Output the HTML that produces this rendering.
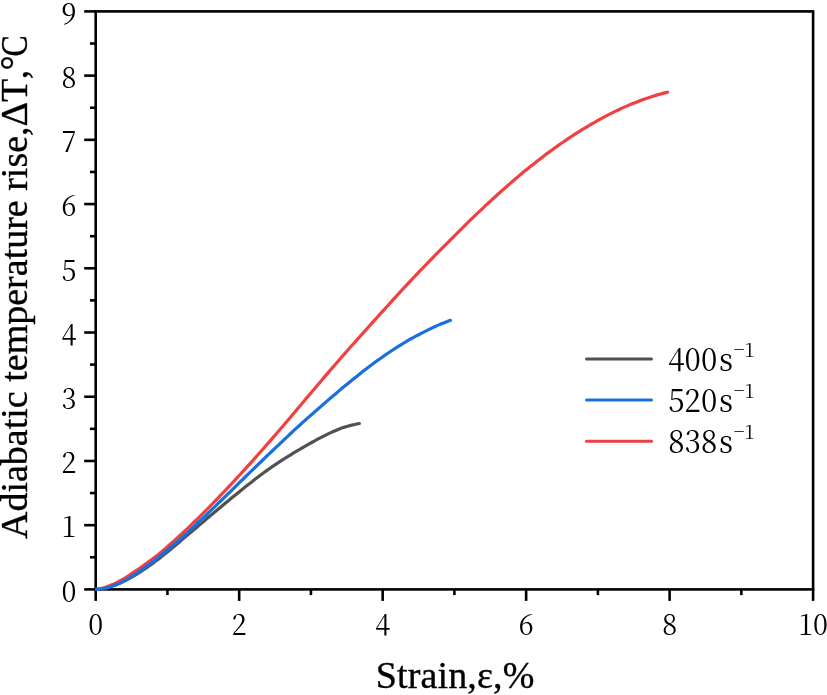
<!DOCTYPE html>
<html lang="en"><head><meta charset="utf-8"><title>Adiabatic temperature rise vs strain</title>
<style>
html,body{margin:0;padding:0;background:#fff;}
svg{display:block;will-change:transform;}
.tick{font-family:"Noto Serif CJK SC", "Liberation Serif", serif;font-size:29.3px;fill:#000;}
.lab{font-family:"Liberation Serif", serif;font-size:38px;fill:#000;stroke:#000;stroke-width:0.35px;}
.xlab{letter-spacing:0.15px;}
.leg{font-family:"Noto Serif CJK SC", "Liberation Serif", serif;font-size:32px;fill:#000;}
.sup{font-size:20px;}
</style></head><body>
<svg width="827" height="695" viewBox="0 0 827 695">
<rect x="0" y="0" width="827" height="695" fill="#ffffff"/>
<g stroke="#000" stroke-width="2.6" fill="none" stroke-linecap="butt">
<line x1="84.20" y1="589.40" x2="95.70" y2="589.40"/>
<line x1="90.00" y1="557.29" x2="95.70" y2="557.29"/>
<line x1="84.20" y1="525.18" x2="95.70" y2="525.18"/>
<line x1="90.00" y1="493.07" x2="95.70" y2="493.07"/>
<line x1="84.20" y1="460.96" x2="95.70" y2="460.96"/>
<line x1="90.00" y1="428.84" x2="95.70" y2="428.84"/>
<line x1="84.20" y1="396.73" x2="95.70" y2="396.73"/>
<line x1="90.00" y1="364.62" x2="95.70" y2="364.62"/>
<line x1="84.20" y1="332.51" x2="95.70" y2="332.51"/>
<line x1="90.00" y1="300.40" x2="95.70" y2="300.40"/>
<line x1="84.20" y1="268.29" x2="95.70" y2="268.29"/>
<line x1="90.00" y1="236.18" x2="95.70" y2="236.18"/>
<line x1="84.20" y1="204.07" x2="95.70" y2="204.07"/>
<line x1="90.00" y1="171.96" x2="95.70" y2="171.96"/>
<line x1="84.20" y1="139.84" x2="95.70" y2="139.84"/>
<line x1="90.00" y1="107.73" x2="95.70" y2="107.73"/>
<line x1="84.20" y1="75.62" x2="95.70" y2="75.62"/>
<line x1="90.00" y1="43.51" x2="95.70" y2="43.51"/>
<line x1="84.20" y1="11.40" x2="95.70" y2="11.40"/>
<line x1="95.70" y1="589.40" x2="95.70" y2="600.90"/>
<line x1="167.44" y1="589.40" x2="167.44" y2="595.10"/>
<line x1="239.18" y1="589.40" x2="239.18" y2="600.90"/>
<line x1="310.92" y1="589.40" x2="310.92" y2="595.10"/>
<line x1="382.66" y1="589.40" x2="382.66" y2="600.90"/>
<line x1="454.40" y1="589.40" x2="454.40" y2="595.10"/>
<line x1="526.14" y1="589.40" x2="526.14" y2="600.90"/>
<line x1="597.88" y1="589.40" x2="597.88" y2="595.10"/>
<line x1="669.62" y1="589.40" x2="669.62" y2="600.90"/>
<line x1="741.36" y1="589.40" x2="741.36" y2="595.10"/>
<line x1="813.10" y1="589.40" x2="813.10" y2="600.90"/>
</g>
<rect x="95.70" y="11.40" width="717.40" height="578.00" fill="none" stroke="#000" stroke-width="2.6"/>
<defs><clipPath id="plotclip"><rect x="95.1" y="0" width="732" height="600"/></clipPath></defs>
<g fill="none" stroke-width="3.2" stroke-linecap="round" stroke-linejoin="round" clip-path="url(#plotclip)">
<path stroke="#515151" d="M95.7,589.4 L98.7,589.2 L101.7,588.8 L104.7,588.2 L107.7,587.5 L110.7,586.6 L113.7,585.6 L116.7,584.4 L119.7,583.2 L122.7,581.8 L125.7,580.3 L128.7,578.8 L131.7,577.1 L134.7,575.4 L137.7,573.6 L140.7,571.7 L143.7,569.7 L146.7,567.7 L149.7,565.5 L152.7,563.4 L155.7,561.1 L158.7,558.9 L161.7,556.5 L164.7,554.1 L167.7,551.7 L170.7,549.2 L173.7,546.7 L176.7,544.2 L179.7,541.7 L182.7,539.1 L185.7,536.6 L188.7,534.1 L191.7,531.5 L194.7,529.0 L197.7,526.5 L200.7,523.9 L203.7,521.4 L206.7,518.8 L209.7,516.3 L212.7,513.8 L215.7,511.2 L218.7,508.7 L221.7,506.2 L224.7,503.7 L227.7,501.3 L230.7,498.8 L233.7,496.3 L236.7,493.9 L239.7,491.4 L242.7,489.0 L245.7,486.6 L248.7,484.2 L251.7,481.9 L254.7,479.5 L257.7,477.3 L260.7,475.0 L263.7,472.8 L266.7,470.6 L269.7,468.5 L272.7,466.4 L275.7,464.4 L278.7,462.4 L281.7,460.4 L284.7,458.5 L287.7,456.6 L290.7,454.8 L293.7,452.9 L296.7,451.1 L299.7,449.4 L302.7,447.6 L305.7,445.9 L308.7,444.2 L311.7,442.5 L314.7,440.9 L317.7,439.2 L320.7,437.6 L323.7,436.1 L326.7,434.6 L329.7,433.1 L332.7,431.8 L335.7,430.5 L338.7,429.2 L341.7,428.1 L344.7,427.1 L347.7,426.2 L350.7,425.4 L353.7,424.7 L356.7,424.0 L359.3,423.5"/>
<path stroke="#f14040" d="M95.7,589.4 L98.7,589.0 L101.7,588.4 L104.7,587.6 L107.7,586.5 L110.7,585.3 L113.7,584.0 L116.7,582.6 L119.7,581.0 L122.7,579.3 L125.7,577.5 L128.7,575.7 L131.7,573.7 L134.7,571.7 L137.7,569.7 L140.7,567.6 L143.7,565.4 L146.7,563.2 L149.7,560.9 L152.7,558.7 L155.7,556.5 L158.7,554.2 L161.7,551.7 L164.7,549.1 L167.7,546.5 L170.7,543.8 L173.7,541.2 L176.7,538.4 L179.7,535.7 L182.7,532.9 L185.7,530.1 L188.7,527.3 L191.7,524.4 L194.7,521.5 L197.7,518.6 L200.7,515.6 L203.7,512.6 L206.7,509.6 L209.7,506.6 L212.7,503.5 L215.7,500.5 L218.7,497.4 L221.7,494.2 L224.7,491.1 L227.7,487.9 L230.7,484.7 L233.7,481.5 L236.7,478.2 L239.7,475.0 L242.7,471.7 L245.7,468.4 L248.7,465.1 L251.7,461.8 L254.7,458.4 L257.7,455.0 L260.7,451.7 L263.7,448.2 L266.7,444.8 L269.7,441.4 L272.7,437.9 L275.7,434.5 L278.7,431.0 L281.7,427.5 L284.7,424.0 L287.7,420.5 L290.7,417.0 L293.7,413.4 L296.7,409.8 L299.7,406.2 L302.7,402.7 L305.7,399.1 L308.7,395.6 L311.7,392.0 L314.7,388.5 L317.7,385.0 L320.7,381.4 L323.7,377.9 L326.7,374.4 L329.7,370.9 L332.7,367.4 L335.7,364.0 L338.7,360.5 L341.7,357.0 L344.7,353.6 L347.7,350.2 L350.7,346.8 L353.7,343.5 L356.7,340.1 L359.7,336.7 L362.7,333.4 L365.7,330.1 L368.7,326.7 L371.7,323.4 L374.7,320.1 L377.7,316.7 L380.7,313.4 L383.7,310.1 L386.7,306.8 L389.7,303.5 L392.7,300.2 L395.7,296.9 L398.7,293.6 L401.7,290.4 L404.7,287.1 L407.7,283.9 L410.7,280.7 L413.7,277.5 L416.7,274.3 L419.7,271.2 L422.7,268.1 L425.7,265.0 L428.7,261.9 L431.7,258.8 L434.7,255.7 L437.7,252.7 L440.7,249.6 L443.7,246.6 L446.7,243.6 L449.7,240.6 L452.7,237.6 L455.7,234.6 L458.7,231.6 L461.7,228.6 L464.7,225.6 L467.7,222.7 L470.7,219.7 L473.7,216.8 L476.7,213.9 L479.7,211.1 L482.7,208.3 L485.7,205.4 L488.7,202.7 L491.7,199.9 L494.7,197.2 L497.7,194.5 L500.7,191.8 L503.7,189.1 L506.7,186.5 L509.7,183.9 L512.7,181.3 L515.7,178.7 L518.7,176.1 L521.7,173.6 L524.7,171.1 L527.7,168.7 L530.7,166.3 L533.7,163.9 L536.7,161.5 L539.7,159.2 L542.7,156.9 L545.7,154.6 L548.7,152.4 L551.7,150.2 L554.7,148.0 L557.7,145.9 L560.7,143.8 L563.7,141.7 L566.7,139.6 L569.7,137.6 L572.7,135.7 L575.7,133.7 L578.7,131.8 L581.7,129.9 L584.7,128.1 L587.7,126.3 L590.7,124.5 L593.7,122.8 L596.7,121.1 L599.7,119.4 L602.7,117.8 L605.7,116.2 L608.7,114.6 L611.7,113.1 L614.7,111.6 L617.7,110.2 L620.7,108.8 L623.7,107.4 L626.7,106.1 L629.7,104.8 L632.7,103.6 L635.7,102.4 L638.7,101.2 L641.7,100.1 L644.7,99.0 L647.7,98.0 L650.7,97.0 L653.7,96.0 L656.7,95.1 L659.7,94.2 L662.7,93.4 L665.7,92.6 L667.5,92.2"/>
<path stroke="#1a6fdf" d="M95.7,589.4 L98.7,589.2 L101.7,588.8 L104.7,588.3 L107.7,587.6 L110.7,586.7 L113.7,585.6 L116.7,584.4 L119.7,583.1 L122.7,581.6 L125.7,580.0 L128.7,578.3 L131.7,576.5 L134.7,574.6 L137.7,572.7 L140.7,570.6 L143.7,568.5 L146.7,566.3 L149.7,564.1 L152.7,561.9 L155.7,559.5 L158.7,557.2 L161.7,554.8 L164.7,552.3 L167.7,549.8 L170.7,547.3 L173.7,544.8 L176.7,542.2 L179.7,539.5 L182.7,536.9 L185.7,534.1 L188.7,531.4 L191.7,528.6 L194.7,525.9 L197.7,523.0 L200.7,520.2 L203.7,517.3 L206.7,514.5 L209.7,511.6 L212.7,508.7 L215.7,505.8 L218.7,502.9 L221.7,500.0 L224.7,497.1 L227.7,494.2 L230.7,491.3 L233.7,488.3 L236.7,485.4 L239.7,482.4 L242.7,479.5 L245.7,476.5 L248.7,473.6 L251.7,470.7 L254.7,467.8 L257.7,464.9 L260.7,462.0 L263.7,459.1 L266.7,456.2 L269.7,453.4 L272.7,450.5 L275.7,447.7 L278.7,444.8 L281.7,442.0 L284.7,439.1 L287.7,436.3 L290.7,433.5 L293.7,430.7 L296.7,427.9 L299.7,425.2 L302.7,422.4 L305.7,419.8 L308.7,417.1 L311.7,414.5 L314.7,411.9 L317.7,409.2 L320.7,406.6 L323.7,404.0 L326.7,401.4 L329.7,398.8 L332.7,396.2 L335.7,393.7 L338.7,391.1 L341.7,388.6 L344.7,386.1 L347.7,383.7 L350.7,381.2 L353.7,378.8 L356.7,376.4 L359.7,374.0 L362.7,371.6 L365.7,369.3 L368.7,367.0 L371.7,364.8 L374.7,362.5 L377.7,360.3 L380.7,358.2 L383.7,356.1 L386.7,354.0 L389.7,352.0 L392.7,350.0 L395.7,348.1 L398.7,346.2 L401.7,344.3 L404.7,342.5 L407.7,340.7 L410.7,339.0 L413.7,337.3 L416.7,335.7 L419.7,334.2 L422.7,332.6 L425.7,331.1 L428.7,329.6 L431.7,328.1 L434.7,326.7 L437.7,325.4 L440.7,324.1 L443.7,322.9 L446.7,321.7 L449.7,320.6 L450.4,320.4"/>
</g>
<g class="tick" text-anchor="end">
<text transform="translate(76.5,601.70) scale(0.926,1)">0</text>
<text transform="translate(76.5,537.48) scale(0.926,1)">1</text>
<text transform="translate(76.5,473.26) scale(0.926,1)">2</text>
<text transform="translate(76.5,409.03) scale(0.926,1)">3</text>
<text transform="translate(76.5,344.81) scale(0.926,1)">4</text>
<text transform="translate(76.5,280.59) scale(0.926,1)">5</text>
<text transform="translate(76.5,216.37) scale(0.926,1)">6</text>
<text transform="translate(76.5,152.14) scale(0.926,1)">7</text>
<text transform="translate(76.5,87.92) scale(0.926,1)">8</text>
<text transform="translate(76.5,23.70) scale(0.926,1)">9</text>
</g>
<g class="tick" text-anchor="middle">
<text transform="translate(95.70,634.6) scale(0.926,1)">0</text>
<text transform="translate(239.18,634.6) scale(0.926,1)">2</text>
<text transform="translate(382.66,634.6) scale(0.926,1)">4</text>
<text transform="translate(526.14,634.6) scale(0.926,1)">6</text>
<text transform="translate(669.62,634.6) scale(0.926,1)">8</text>
<text transform="translate(813.10,634.6) scale(0.926,1)">10</text>
</g>
<text class="lab xlab" text-anchor="middle" x="455.1" y="687.6">Strain,ε,%</text>
<g transform="translate(27,538.4) rotate(-90)">
<text class="lab" x="-0.6" y="0">Adiabatic temperature rise,ΔT<tspan dx="2.3">,</tspan><tspan dx="-0.6">°</tspan></text>
<text class="lab" transform="translate(482.0,0) scale(0.835,1)">C</text>
</g>
<g fill="none" stroke-width="3" stroke-linecap="round">
<line x1="586.5" y1="359.0" x2="651.5" y2="359.0" stroke="#515151"/>
<line x1="586.5" y1="400.1" x2="651.5" y2="400.1" stroke="#1a6fdf"/>
<line x1="586.5" y1="441.2" x2="651.5" y2="441.2" stroke="#f14040"/>
</g>
<g class="leg">
<text transform="translate(668.3,370.8) scale(0.926,1)">400<tspan dx="1.9">s</tspan><tspan class="sup" dx="0.9" dy="-13.9">−1</tspan></text>
<text transform="translate(668.3,411.9) scale(0.926,1)">520<tspan dx="1.9">s</tspan><tspan class="sup" dx="0.9" dy="-13.9">−1</tspan></text>
<text transform="translate(668.3,453.0) scale(0.926,1)">838<tspan dx="1.9">s</tspan><tspan class="sup" dx="0.9" dy="-13.9">−1</tspan></text>
</g>
</svg></body></html>
